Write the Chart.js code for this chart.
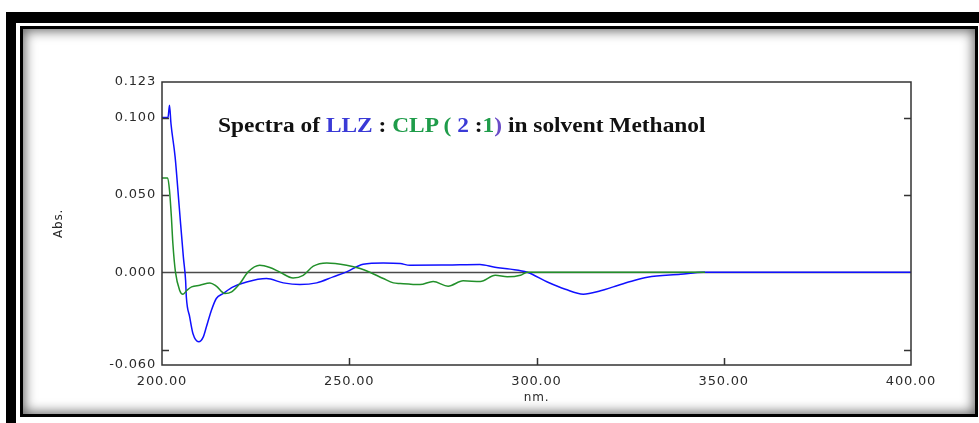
<!DOCTYPE html>
<html>
<head>
<meta charset="utf-8">
<script src="https://cdn.jsdelivr.net/npm/chart.js@4.4.0/dist/chart.umd.min.js"></script>
<style>
  html, body { margin: 0; padding: 0; background: #fff; overflow: hidden; }
  body { width: 979px; height: 423px; position: relative; }
  #outer { position: absolute; left: 6px; top: 12px; width: 1000px; height: 420px;
           border-left: 10px solid #000; border-top: 11px solid #000; }
  #inner { position: absolute; left: 20px; top: 26px; width: 958px; height: 391px; box-sizing: border-box;
           border: 3px solid #000; box-shadow: inset 0 0 12px 2px rgba(0,0,0,0.6); }
  #chart { position: absolute; left: 0; top: 0; }
  #title { position: absolute; left: 218px; top: 114px; white-space: nowrap;
           font: bold 20px "Liberation Serif", "Times New Roman", serif; color: #111;
           transform: scaleX(1.17); transform-origin: 0 0; }
  .b { color: #3a3ad6; }
  .g { color: #1f9c4a; }
  .p { color: #6a4cc8; }
</style>
</head>
<body>
<div id="outer"></div>
<div id="inner"></div>
<canvas id="chart" width="979" height="423"></canvas>
<div id="title">Spectra of <span class="b">LLZ</span> : <span class="g">CLP ( </span><span class="b">2</span> :<span class="g">1</span><span class="p">)</span> in solvent Methanol</div>
<script>
// LLZ (blue) spectrum
const llzNm  = [200.0, 201.6, 202.0, 202.4, 203.5, 204.6, 205.7, 206.3, 206.5, 207.4, 208.3, 209.8, 211.0, 211.9,
                213.2, 214.5, 216.3, 219.0, 222.6, 227.9, 232.4, 236.8, 241.3, 245.7, 249.3, 253.7, 259.1, 263.6,
                266.2, 276.1, 284.9, 288.9, 293.0, 297.5, 302.9, 307.7, 312.5, 317.1, 320.5, 325.1, 329.6, 338.5,
                344.6, 350.0, 400.0];
const llzAbs = [0.100, 0.100, 0.108, 0.096, 0.0746, 0.0423, 0.0099, -0.0052, -0.016, -0.029, -0.040, -0.045, -0.042, -0.035,
                -0.0246, -0.017, -0.0138, -0.0095, -0.0063, -0.0041, -0.0069, -0.0080, -0.0069, -0.0030, 0.0002, 0.0052, 0.0060, 0.0056,
                0.0045, 0.0047, 0.0050, 0.0032, 0.0020, 0.0000, -0.0063, -0.0110, -0.0142, -0.0120, -0.0095, -0.0060, -0.0032, -0.0013,
                0.0000, 0.0000, 0.0000];

// CLP (green) spectrum
const clpNm  = [200.0, 201.5, 202.0, 202.5, 202.9, 203.6, 204.7, 205.6, 206.7, 207.9, 210.1, 212.8, 214.5, 216.8,
                218.6, 220.8, 223.0, 226.1, 228.8, 231.5, 235.0, 237.7, 240.4, 244.0, 249.3, 252.9, 255.5, 259.1,
                261.8, 263.6, 268.9, 272.4, 276.4, 280.4, 285.0, 289.0, 292.2, 295.7, 297.5, 345.0];
const clpAbs = [0.061, 0.061, 0.053, 0.036, 0.0187, 0.0000, -0.0116, -0.0142, -0.0116, -0.0095, -0.0084, -0.0069, -0.0090, -0.0138,
                -0.0127, -0.0073, 0.0002, 0.0045, 0.0030, 0.0000, -0.0037, -0.0020, 0.0039, 0.0060, 0.0045, 0.0024, 0.0000, -0.0041,
                -0.0069, -0.0073, -0.0080, -0.0060, -0.0090, -0.0056, -0.0060, -0.0020, -0.0030, -0.0020, 0.0000, 0.0000];

const xLabels = [200, 250, 300, 350, 400];
const xMarks = [250, 300, 350];
const yLabels = [-0.060, 0.000, 0.050, 0.100, 0.123];
const yMarks = [-0.050, 0.050, 0.100];

const tickFont = { family: '"DejaVu Sans", Verdana, sans-serif', size: 13 };
const titleFont = { family: '"DejaVu Sans", Verdana, sans-serif', size: 12 };

const framePlugin = {
    id: 'frame',
    beforeDraw(chart) {
        chart.ctx.letterSpacing = '0.8px';
    },
    beforeDatasetsDraw(chart) {
        const { ctx, chartArea: a, scales: { y } } = chart;
        const y0 = Math.round(y.getPixelForValue(0)) + 0.5;
        ctx.save();
        ctx.strokeStyle = '#4a4a4a';
        ctx.lineWidth = 1.5;
        ctx.beginPath();
        ctx.moveTo(a.left, y0);
        ctx.lineTo(a.right, y0);
        ctx.stroke();
        ctx.restore();
    },
    afterDatasetsDraw(chart) {
        const { ctx, chartArea: a, scales: { x, y } } = chart;
        ctx.save();
        ctx.strokeStyle = '#333';
        ctx.lineWidth = 1.5;
        ctx.strokeRect(a.left, a.top, a.right - a.left, a.bottom - a.top);
        ctx.beginPath();
        xMarks.forEach(v => {
            const px = Math.round(x.getPixelForValue(v)) + 0.5;
            ctx.moveTo(px, a.bottom);
            ctx.lineTo(px, a.bottom - 7);
        });
        yMarks.forEach(v => {
            const py = Math.round(y.getPixelForValue(v)) + 0.5;
            ctx.moveTo(a.left, py);
            ctx.lineTo(a.left + 7, py);
            ctx.moveTo(a.right, py);
            ctx.lineTo(a.right - 7, py);
        });
        ctx.stroke();
        ctx.restore();
    }
};

const ctx = document.getElementById('chart').getContext('2d');
new Chart(ctx, {
    type: 'line',
    data: {
        datasets: [
            {
                label: 'CLP',
                data: clpNm.map((v, i) => ({ x: v, y: clpAbs[i] })),
                borderColor: '#22902a',
                borderWidth: 1.5,
                pointRadius: 0,
                cubicInterpolationMode: 'monotone',
                fill: false
            },
            {
                label: 'LLZ',
                data: llzNm.map((v, i) => ({ x: v, y: llzAbs[i] })),
                borderColor: '#1010ff',
                borderWidth: 1.5,
                pointRadius: 0,
                cubicInterpolationMode: 'monotone',
                fill: false
            }
        ]
    },
    options: {
        responsive: false,
        animation: false,
        layout: { padding: { top: 82, right: 68, left: 0, bottom: 0 } },
        plugins: { legend: { display: false }, tooltip: { enabled: false } },
        scales: {
            x: {
                type: 'linear', min: 200, max: 400,
                grid: { display: false, drawTicks: false }, border: { display: false },
                afterBuildTicks: s => { s.ticks = xLabels.map(v => ({ value: v })); },
                afterFit: s => { s.height = 58; },
                ticks: { callback: v => Number(v).toFixed(2), padding: 9, font: tickFont, color: '#2a2a2a', maxRotation: 0, autoSkip: false },
                title: { display: true, text: 'nm.', font: titleFont, color: '#2a2a2a', padding: { top: 0, bottom: 18 } }
            },
            y: {
                type: 'linear', min: -0.06, max: 0.123,
                grid: { display: false, drawTicks: false }, border: { display: false },
                afterBuildTicks: s => { s.ticks = yLabels.map(v => ({ value: v })); },
                afterFit: s => { s.width = 162; },
                ticks: { callback: v => Number(v).toFixed(3), padding: 6, font: tickFont, color: '#2a2a2a', autoSkip: false },
                title: { display: true, text: 'Abs.', font: titleFont, color: '#2a2a2a', padding: { top: 52, bottom: 0 } }
            }
        }
    },
    plugins: [framePlugin]
});
</script>
</body>
</html>
